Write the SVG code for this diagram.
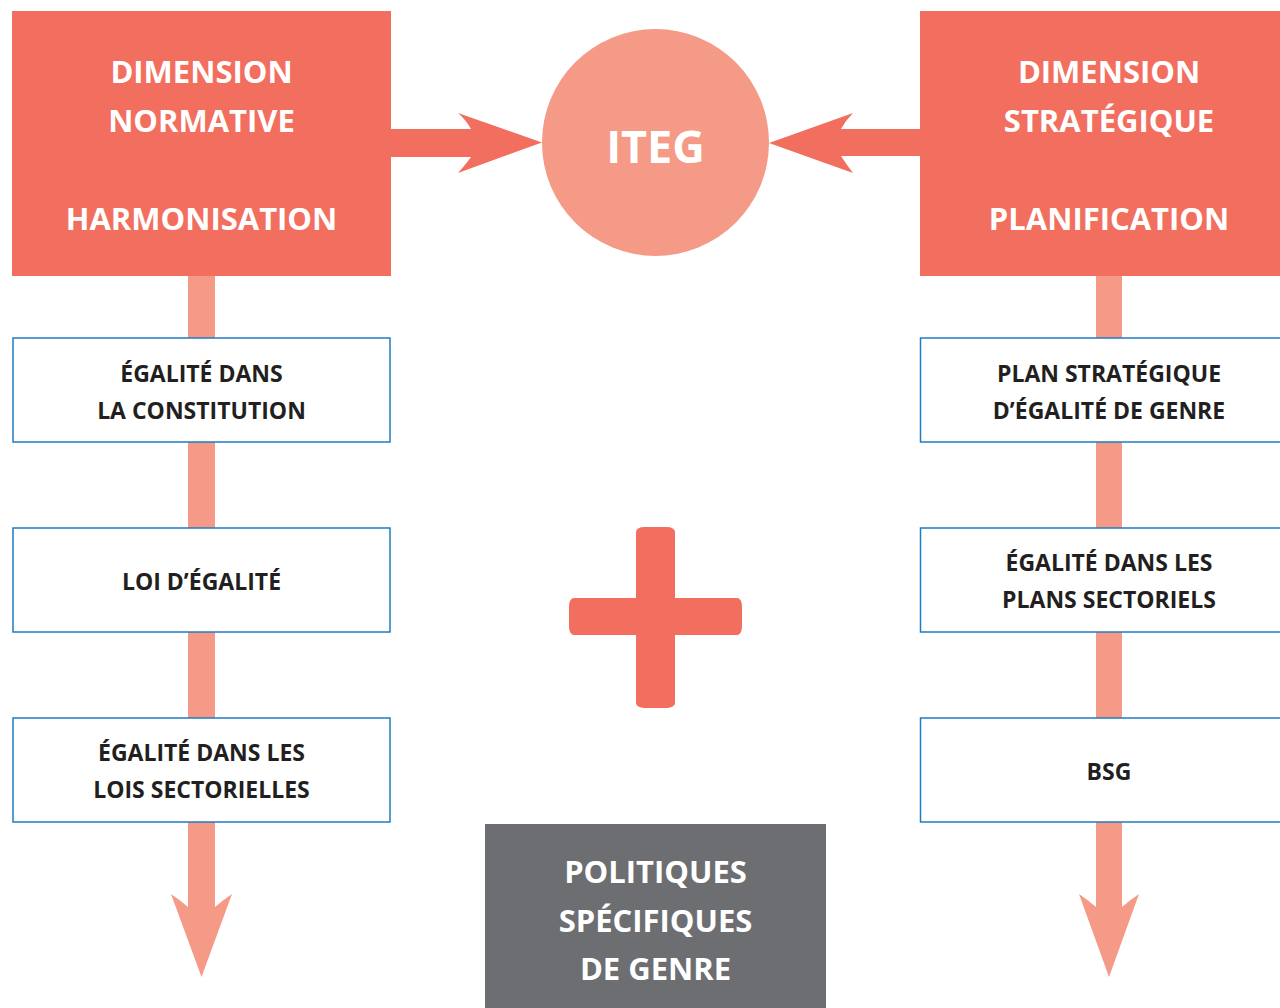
<svg xmlns="http://www.w3.org/2000/svg" width="1280" height="1008" viewBox="0 0 1280 1008">
<style>
.head{fill:#f26f5f}
.conn{fill:#f59a86}
.ht{font-family:"Open Sans","Liberation Sans",sans-serif;font-weight:700;font-size:31px;fill:#ffffff;text-anchor:middle}
.bx{fill:#ffffff;stroke:#1f7cc1;stroke-width:1.5}
.bt{font-family:"Open Sans","Liberation Sans",sans-serif;font-weight:700;font-size:23px;fill:#231f20;text-anchor:middle}
</style>
<rect width="1280" height="1008" fill="#ffffff"/>
<g id="connectors">
<path class="conn" d="M188,276 L188,907 Q180,900 171,894 L201.5,977 L232,894 Q223,900 215,907 L215,276 Z"/>
<path class="conn" d="M1096,276 L1096,907 Q1088,900 1079,894 L1109,977 L1139,894 Q1130,900 1122,907 L1122,276 Z"/>
<path class="head" d="M390,129 L471,129 Q466,120 458,113 L542,142.5 L458,173 Q466,164 471,157 L390,157 Z"/>
<path class="head" d="M921,129 L841,129 Q846,120 853,113 L769,143 L853,173 Q846,164 841,156 L921,156 Z"/>
</g>
<g id="dim-normative">
<rect x="12" y="11" width="379" height="265" class="head"/>
<text class="ht" x="201.5" y="83">DIMENSION</text>
<text class="ht" x="201.5" y="132">NORMATIVE</text>
<text class="ht" x="201.5" y="230">HARMONISATION</text>
</g>
<g id="dim-strategique">
<rect x="920" y="11" width="370" height="265" class="head"/>
<text class="ht" x="1109" y="83">DIMENSION</text>
<text class="ht" x="1109" y="132">STRATÉGIQUE</text>
<text class="ht" x="1109" y="230">PLANIFICATION</text>
</g>
<g id="iteg">
<circle cx="655.5" cy="142.5" r="113.5" fill="#f59a86"/>
<text x="655.5" y="163" font-family="'Open Sans','Liberation Sans',sans-serif" font-weight="700" font-size="45" fill="#ffffff" text-anchor="middle">ITEG</text>
</g>
<g id="egalite-constitution">
<rect class="bx" x="13" y="338" width="377" height="104"/>
<text class="bt" x="201.5" y="382">ÉGALITÉ DANS</text>
<text class="bt" x="201.5" y="419">LA CONSTITUTION</text>
</g>
<g id="loi-egalite">
<rect class="bx" x="13" y="528" width="377" height="104"/>
<text class="bt" x="201.5" y="590">LOI D’ÉGALITÉ</text>
</g>
<g id="lois-sectorielles">
<rect class="bx" x="13" y="718" width="377" height="104"/>
<text class="bt" x="201.5" y="761">ÉGALITÉ DANS LES</text>
<text class="bt" x="201.5" y="798">LOIS SECTORIELLES</text>
</g>
<g id="plan-strategique">
<rect class="bx" x="920.5" y="338" width="370" height="104"/>
<text class="bt" x="1109" y="382">PLAN STRATÉGIQUE</text>
<text class="bt" x="1109" y="419">D’ÉGALITÉ DE GENRE</text>
</g>
<g id="plans-sectoriels">
<rect class="bx" x="920.5" y="528" width="370" height="104"/>
<text class="bt" x="1109" y="571">ÉGALITÉ DANS LES</text>
<text class="bt" x="1109" y="608">PLANS SECTORIELS</text>
</g>
<g id="bsg">
<rect class="bx" x="920.5" y="718" width="370" height="104"/>
<text class="bt" x="1109" y="780">BSG</text>
</g>
<g id="plus">
<rect x="636" y="527" width="39" height="181" rx="8" ry="5" class="head"/>
<rect x="569" y="598" width="173" height="37" rx="5" ry="8" class="head"/>
</g>
<g id="politiques">
<rect x="485" y="824" width="341" height="184" fill="#6d6e71"/>
<text class="ht" x="655.5" y="883">POLITIQUES</text>
<text class="ht" x="655.5" y="932">SPÉCIFIQUES</text>
<text class="ht" x="655.5" y="980">DE GENRE</text>
</g>
</svg>
